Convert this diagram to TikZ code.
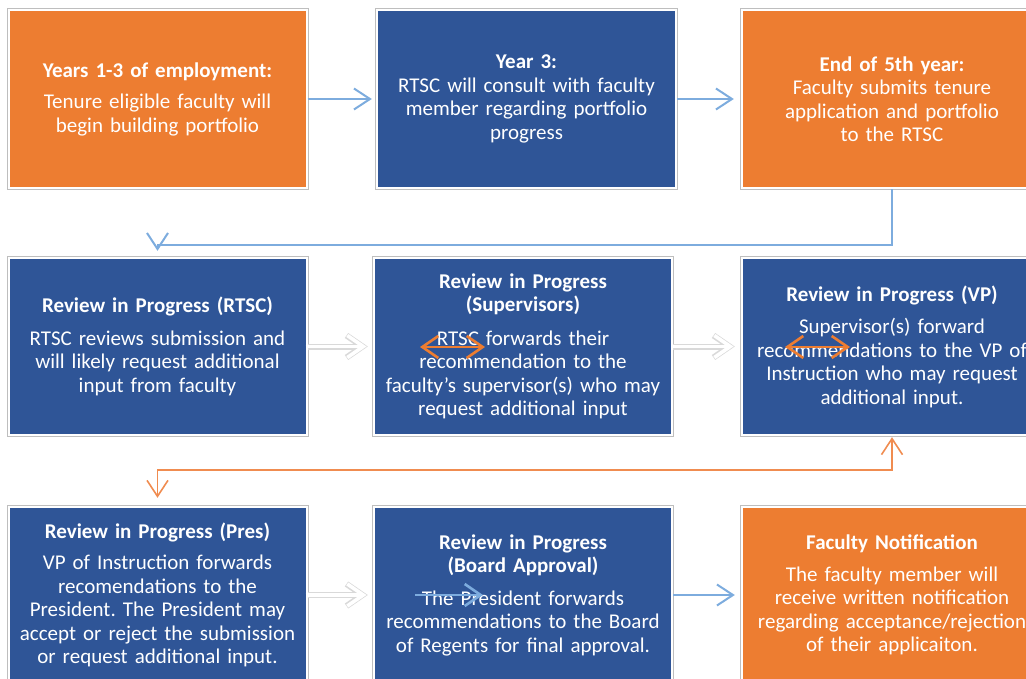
\documentclass[tikz,border=0pt]{standalone}
\usepackage{fontspec}
\setmainfont{Carlito}
\usetikzlibrary{arrows.meta,calc}
\definecolor{orangeC}{RGB}{237,125,49}
\definecolor{blueC}{RGB}{47,85,151}
\definecolor{connBlue}{RGB}{125,172,222}
\definecolor{connOrange}{RGB}{240,140,80}
\definecolor{frameC}{RGB}{190,190,190}
\frenchspacing
\tikzset{
  box/.style={minimum height=176pt, text width=296pt, align=center, inner sep=0pt,
    text=white, font=\fontsize{21}{23.5}\selectfont},
  obox/.style={box, fill=orangeC},
  bbox/.style={box, fill=blueC},
  frame/.style={draw=frameC, line width=0.8pt},
  blueconn/.style={draw=connBlue, line width=2pt, -{Straight Barb[length=16pt,width=21pt]}},
  orangeconn/.style={draw=connOrange, line width=1.6pt,
    {Straight Barb[length=16pt,width=21pt]}-{Straight Barb[length=16pt,width=21pt]}},
  innerorange/.style={draw=orangeC, line width=2.6pt,
    {Straight Barb[length=16pt,width=22pt]}-{Straight Barb[length=16pt,width=22pt]}},
  innerblue/.style={draw=connBlue, line width=2.6pt, -{Straight Barb[length=16pt,width=22pt]}},
  whiteout/.style={draw=gray!30, line width=6pt, -{Straight Barb[length=16pt,width=22pt]}},
  whitein/.style={draw=white, line width=3.6pt, -{Straight Barb[length=16pt,width=22pt]}},
}
\newcommand{\ttl}[1]{\textbf{#1}}
\begin{document}
\begin{tikzpicture}[x=1pt,y=-1pt]
\useasboundingbox (0,0) rectangle (1026,679);
\clip (0,0) rectangle (1026,679);
% row 1
\node[obox, minimum width=295pt, minimum height=176pt] (b1) at (157.5,99)
  {\ttl{Years 1-3 of employment:}\\[8pt]Tenure eligible faculty will\\begin building portfolio};
\node[bbox, minimum width=297pt, minimum height=176pt] (b2) at (526.5,99)
  {\ttl{Year 3:}\\RTSC will consult with faculty\\member regarding portfolio\\progress};
\node[obox, minimum width=298pt, minimum height=176pt] (b3) at (892,99)
  {\ttl{End of 5th year:}\\Faculty submits tenure\\application and portfolio\\to the RTSC};
% row 2
\node[bbox, minimum width=295pt, minimum height=175pt] (b4) at (157.5,346.5)
  {\ttl{Review in Progress (RTSC)}\\[9pt]RTSC reviews submission and\\will likely request additional\\input from faculty};
\node[bbox, minimum width=294pt, minimum height=175pt] (b5) at (523,346.5)
  {\ttl{Review in Progress}\\\ttl{(Supervisors)}\\[10pt]RTSC forwards their\\recommendation to the\\faculty’s supervisor(s) who may\\request additional input};
\node[bbox, minimum width=298pt, minimum height=175pt] (b6) at (892,346.5)
  {\ttl{Review in Progress (VP)}\\[9pt]Supervisor(s) forward\\recommendations to the VP of\\Instruction who may request\\additional input.};
% row 3
\node[bbox, minimum width=295pt, minimum height=174pt] (b7) at (157.5,595)
  {\ttl{Review in Progress (Pres)}\\[8pt]VP of Instruction forwards\\recomendations to the\\President. The President may\\accept or reject the submission\\or request additional input.};
\node[bbox, minimum width=294pt, minimum height=174pt] (b8) at (523,595)
  {\ttl{Review in Progress}\\\ttl{(Board Approval)}\\[9pt]The President forwards\\recommendations to the Board\\of Regents for final approval.};
\node[obox, minimum width=298pt, minimum height=174pt] (b9) at (892,595)
  {\ttl{Faculty Notification}\\[8pt]The faculty member will\\receive written notification\\regarding acceptance/rejection\\of their applicaiton.};
% frames
\foreach \n in {b1,b2,b3,b4,b5,b6,b7,b8,b9}
  \draw[frame] ($(\n.north west)+(-2.2,-2.2)$) rectangle ($(\n.south east)+(2.2,2.2)$);
% row 1 connectors
\draw[blueconn, shorten <=2pt, shorten >=6pt] (b1.east) -- (b1.east -| b2.west);
\draw[blueconn, shorten <=2pt, shorten >=9pt] (b2.east) -- (b2.east -| b3.west);
\draw[blueconn, shorten <=2pt, shorten >=8pt] (b3.south) -- ++(0,58) -| (b4.north);
% row 2 connectors
\draw[whiteout, shorten <=2pt, shorten >=7pt] (b4.east) -- (b4.east -| b5.west);
\draw[whitein, shorten <=0pt, shorten >=8.3pt] (b4.east) -- (b4.east -| b5.west);
\draw[whiteout, shorten <=2pt, shorten >=8pt] (b5.east) -- (b5.east -| b6.west);
\draw[whitein, shorten <=0pt, shorten >=9.3pt] (b5.east) -- (b5.east -| b6.west);
\draw[orangeconn, shorten <=3pt, shorten >=10pt] (b6.south) -- ++(0,36) -| (b7.north);
% row 3 connectors
\draw[whiteout, shorten <=2pt, shorten >=7pt] (b7.east) -- (b7.east -| b8.west);
\draw[whitein, shorten <=0pt, shorten >=8.3pt] (b7.east) -- (b7.east -| b8.west);
\draw[blueconn, shorten <=2pt, shorten >=8pt] (b8.east) -- (b8.east -| b9.west);
% inner arrows
\coordinate (i1a) at (420,347); \coordinate (i1b) at (485,347);
\coordinate (i2a) at (785,347); \coordinate (i2b) at (850,347);
\coordinate (i3a) at (415,595); \coordinate (i3b) at (483,595);
\draw[innerorange] (i1a) -- (i1b);
\draw[innerorange] (i2a) -- (i2b);
\draw[innerblue] (i3a) -- (i3b);
\end{tikzpicture}
\end{document}
